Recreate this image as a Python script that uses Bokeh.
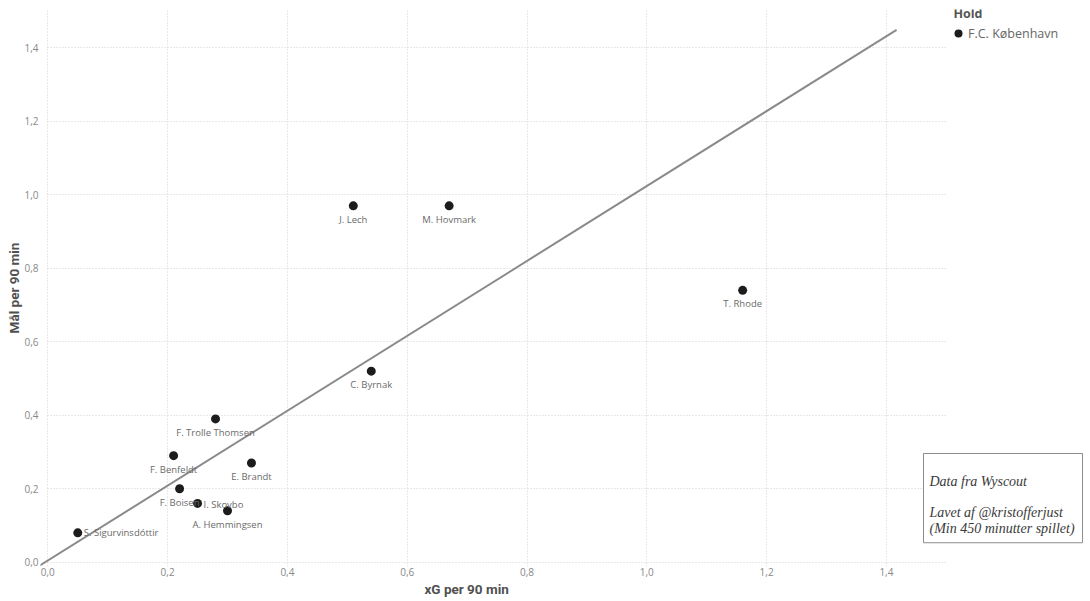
from bokeh.plotting import figure
from bokeh.models import (Range1d, FixedTicker, Label, Legend, LegendItem,
                          ColumnDataSource, Title)
from bokeh.core.properties import value, field
from bokeh.embed import file_html
from bokeh.resources import INLINE

# ---------------- data ----------------
players = ["S. Sigurvinsdóttir", "F. Benfeldt", "F. Boisen", "I. Skovbo",
           "F. Trolle Thomsen", "A. Hemmingsen", "E. Brandt", "J. Lech",
           "C. Byrnak", "M. Hovmark", "T. Rhode"]
xg_per90 = [0.05, 0.21, 0.22, 0.25, 0.28, 0.30, 0.34, 0.51, 0.54, 0.67, 1.16]
goals_per90 = [0.08, 0.29, 0.20, 0.16, 0.39, 0.14, 0.27, 0.97, 0.52, 0.97, 0.74]
team = "F.C. København"
trend_x = [-0.024, 1.417]
trend_y = [-0.020, 1.449]
tick_values = [0.0, 0.2, 0.4, 0.6, 0.8, 1.0, 1.2, 1.4]
tick_labels = ["0,0", "0,2", "0,4", "0,6", "0,8", "1,0", "1,2", "1,4"]
x_title = "xG per 90 min"
y_title = "Mål per 90 min"
legend_title = "Hold"
note_text = "Data fra Wyscout\n\nLavet af @kristofferjust\n(Min 450 minutter spillet)"

# ---------------- label placement (pixels) ----------------
label_dx = [6, 0, 0, 6, 0, 0, 0, 0, 0, 0, 0]
label_dy = [0, 14, 13.5, 1, 14, 13.5, 13.5, 13.5, 13.5, 13.5, 13.5]
label_align = ["left", "center", "center", "left", "center", "center",
               "center", "center", "center", "center", "center"]

FONT = "Open Sans"
X_MAX_GRID = 1.4987   # right edge of the plotting area (gridlines end here)

p = figure(width=1090, height=600, output_backend="svg", toolbar_location=None,
           x_range=Range1d(-0.0122, 1.7407), y_range=Range1d(-0.0117, 1.5043),
           min_border_left=40, min_border_right=0, min_border_top=9,
           min_border_bottom=34)
p.outline_line_color = None
p.background_fill_color = "white"
p.border_fill_color = "white"

for ax in (p.xaxis[0], p.yaxis[0]):
    ax.ticker = FixedTicker(ticks=tick_values)
    ax.major_label_overrides = {v: s for v, s in zip(tick_values, tick_labels)}
    ax.axis_line_color = None
    ax.major_tick_line_color = None
    ax.minor_tick_line_color = None
    ax.major_tick_out = 0
    ax.major_tick_in = 0
    ax.major_label_text_font = FONT
    ax.major_label_text_font_size = "10px"
    ax.major_label_text_color = "#888888"
p.xaxis.major_label_standoff = 1
p.yaxis.major_label_standoff = 2

p.grid.grid_line_color = "#d2d2d2"
p.grid.grid_line_dash = "1 2"
p.grid.grid_line_width = 1
p.ygrid.cross_bounds = (0.0, X_MAX_GRID)

# axis titles
p.add_layout(Title(text=x_title, align="left", offset=384, standoff=0,
                   text_font="Roboto", text_font_style="bold",
                   text_font_size="13.5px", text_color="#505050"), "below")
p.add_layout(Title(text=y_title, align="center", standoff=0,
                   text_font="Roboto", text_font_style="bold",
                   text_font_size="13.5px", text_color="#505050"), "left")

# trend line
p.line(trend_x, trend_y, line_color="#8a8a8a", line_width=2)

src = ColumnDataSource(dict(x=xg_per90, y=goals_per90, name=players,
                            dx=label_dx, dy=label_dy, align=label_align))
pts = p.scatter("x", "y", source=src, size=9, fill_color="#1c1c1c",
                line_color=None)
p.text("x", "y", text="name", source=src, x_offset="dx", y_offset="dy",
       text_align=field("align"), text_baseline="middle",
       text_font=value(FONT), text_font_size="9.5px", text_color="#6a6a6a")

# legend
p.add_layout(Label(x=913, y=553, x_units="screen", y_units="screen",
                   text=legend_title, text_align="left", text_baseline="middle",
                   text_font=FONT, text_font_style="bold",
                   text_font_size="12.5px", text_color="#555555"))
legend = Legend(items=[LegendItem(label=team, renderers=[pts])],
                location=(908, 523), padding=0, margin=0, spacing=0,
                glyph_width=20, glyph_height=20, label_standoff=0,
                border_line_color=None, background_fill_alpha=0,
                label_text_font=FONT, label_text_font_size="12.5px",
                label_text_color="#666666")
p.add_layout(legend)

# note box
p.add_layout(Label(x=883, y=113, x_units="screen", y_units="screen",
                   text=note_text, text_align="left", text_baseline="top",
                   text_font="Liberation Serif", text_font_style="italic",
                   text_font_size="14px", text_color="#3a3a3a",
                   text_line_height=1.05,
                   padding=dict(left=6, right=8, top=20, bottom=7),
                   border_line_color="#8c8c8c", border_line_width=1,
                   background_fill_color="white"))

open("out.html", "w").write(file_html(p, INLINE))
